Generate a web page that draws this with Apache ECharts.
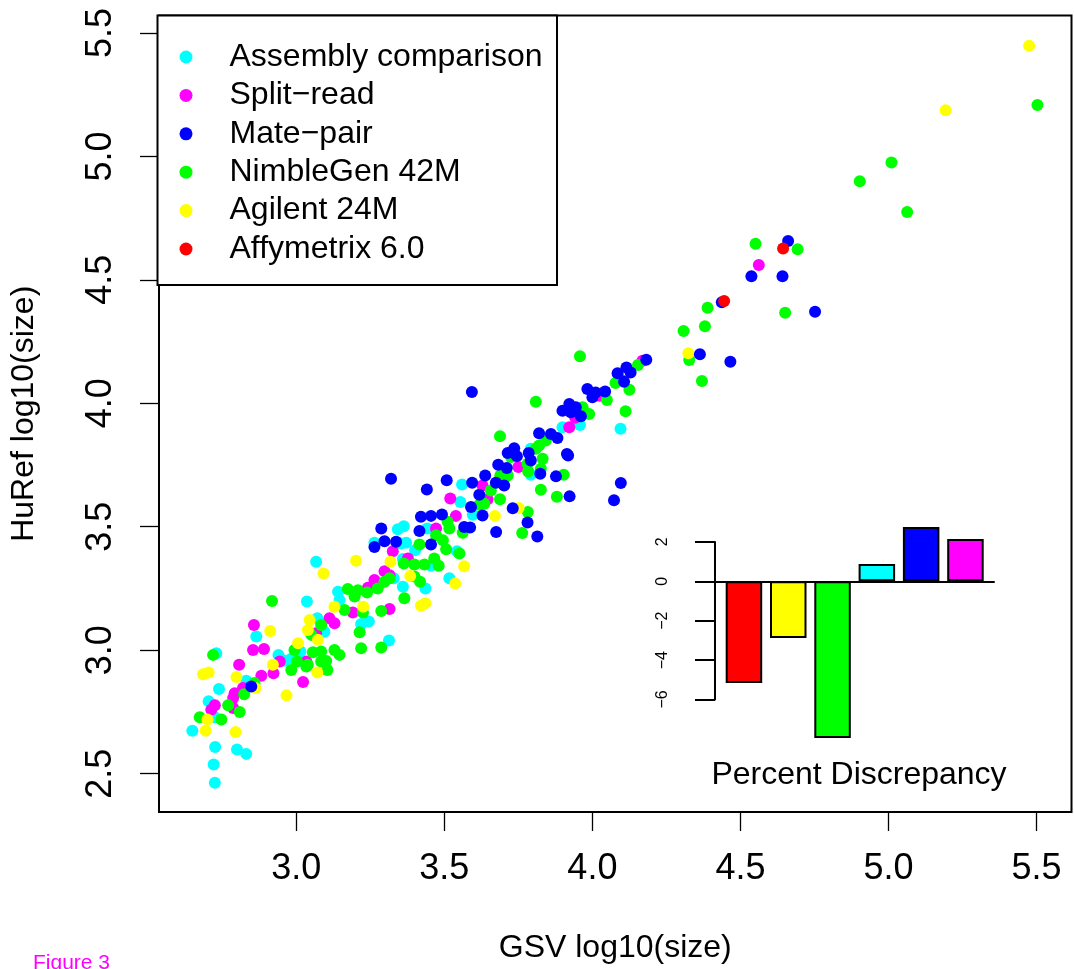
<!DOCTYPE html>
<html>
<head>
<meta charset="utf-8">
<title>HuRef vs GSV size</title>
<script src="https://cdn.jsdelivr.net/npm/echarts@6/dist/echarts.min.js"></script>
<style>
  html, body { margin: 0; padding: 0; background: #fff; }
  #chart { width: 1074px; height: 969px; }
</style>
</head>
<body>
<div id="chart"></div>
<script>
// platforms, in legend order
var platforms = ['Assembly comparison', 'Split\u2212read', 'Mate\u2212pair', 'NimbleGen 42M', 'Agilent 24M', 'Affymetrix 6.0'];

// [GSV log10(size), HuRef log10(size)]
var assemblyPts = [
  [3.899,3.903],[3.958,3.912],[4.095,3.897],[3.792,3.816],[3.792,3.711],
  [3.560,3.671],[3.554,3.600],[3.596,3.549],[3.442,3.493],[3.363,3.502],[3.343,3.490],[3.371,3.435],[3.354,3.432],
  [3.264,3.435],[3.401,3.405],[3.360,3.369],[3.543,3.401],[3.455,3.342],[3.436,3.250],[3.517,3.291],[3.360,3.257],
  [3.067,3.358],[3.329,3.291],[3.141,3.237],[3.146,3.203],[3.036,3.197],[3.219,3.106],[3.245,3.116],[3.313,3.039],
  [2.865,3.055],[3.071,3.129],[3.095,3.075],[3.014,2.995],[2.940,2.981],[2.961,2.957],[2.983,2.965],
  [2.730,2.988],[2.739,2.843],[2.831,2.876],[2.704,2.793],[2.725,2.728],[2.649,2.674],[2.726,2.608],[2.800,2.598],
  [2.831,2.580],[2.721,2.537],[2.725,2.463]
];
var splitReadPts = [
  [4.562,4.560],[4.169,4.172],[4.096,4.095],[4.023,4.031],[3.942,3.941],[3.922,3.903],[3.750,3.742],[3.629,3.667],[3.646,3.611],
  [3.520,3.614],[3.539,3.544],[3.472,3.493],[3.377,3.371],[3.326,3.401],
  [3.298,3.320],[3.264,3.284],[3.242,3.253],[3.315,3.304],[3.191,3.153],[3.315,3.167],[2.857,3.102],[2.854,3.001],[2.891,3.005],
  [3.112,3.129],[3.129,3.109],[3.034,2.954],[2.944,2.954],
  [2.807,2.941],[2.882,2.896],[2.820,2.847],[2.792,2.826],[2.787,2.806],[2.725,2.777],[2.713,2.759],[2.787,2.766],
  [3.023,2.871],[2.923,2.907],[3.067,3.069]
];
var matePairPts = [
  [4.661,4.657],[4.537,4.515],[4.642,4.515],[4.437,4.409],[4.752,4.371],[4.363,4.199],[4.466,4.168],[4.182,4.176],
  [4.115,4.145],[4.085,4.122],[4.129,4.125],[4.107,4.087],[3.983,4.058],[4.011,4.044],[4.043,4.048],[4.000,4.024],
  [3.922,3.997],[3.899,3.970],[3.944,3.984],[3.927,3.964],[3.961,3.948],[3.820,3.879],[3.860,3.876],[3.882,3.859],
  [3.914,3.795],[3.736,3.818],[3.714,3.799],[3.785,3.799],[3.745,3.786],[3.792,3.768],[3.918,3.789],[3.682,3.751],
  [3.711,3.738],[3.824,3.715],[3.877,3.704],[3.638,3.708],[3.674,3.678],[3.702,3.667],[4.096,3.677],[4.073,3.607],
  [3.923,3.623],[3.731,3.575],[3.629,3.546],
  [3.441,3.651],[3.508,3.688],[3.594,3.678],[3.618,3.630],[3.590,3.580],[3.781,3.517],[3.814,3.460],[3.675,3.479],
  [3.421,3.540],[3.455,3.544],[3.492,3.550],[3.416,3.483],[3.567,3.499],[3.587,3.497],[3.455,3.428],
  [3.320,3.694],[3.287,3.493],[3.298,3.441],[3.337,3.439],[3.264,3.418],[3.593,4.046],[2.848,2.853]
];
var nimbleGenPts = [
  [5.503,5.208],[5.010,4.975],[4.903,4.899],[5.063,4.775],[4.551,4.646],[4.693,4.624],[4.389,4.387],[4.651,4.367],
  [4.308,4.293],[4.380,4.312],[4.327,4.175],[4.370,4.090],
  [3.958,4.191],[4.154,4.155],[4.078,4.082],[4.125,4.055],[4.049,4.013],[3.809,4.006],[4.112,3.968],[3.967,3.984],
  [3.989,3.957],[3.688,3.867],[3.843,3.849],[3.820,3.829],[3.809,3.816],[3.832,3.775],[3.725,3.782],[3.781,3.755],
  [3.783,3.724],[3.826,3.735],[3.903,3.711],[3.689,3.708],[3.714,3.708],[3.657,3.647],[3.826,3.650],[3.688,3.611],
  [3.880,3.621],[3.782,3.560],[3.635,3.593],
  [3.618,3.589],[3.763,3.475],[3.511,3.520],[3.517,3.493],[3.562,3.476],[3.472,3.466],[3.495,3.445],[3.416,3.428],
  [3.506,3.409],[3.551,3.392],[3.399,3.347],[3.433,3.347],[3.466,3.371],[3.481,3.342],[3.363,3.351],[3.399,3.298],
  [3.418,3.277],[3.365,3.210],
  [3.298,3.277],[3.315,3.291],[3.275,3.250],[3.174,3.248],[3.208,3.243],[3.239,3.234],[3.197,3.217],[3.163,3.163],
  [3.225,3.153],[3.287,3.159],[2.918,3.199],[3.214,3.073],[3.287,3.011],[3.219,3.008],[3.084,3.102],[3.051,3.062],
  [2.994,3.001],[3.056,2.992],[3.084,2.995],[3.129,3.001],[3.146,2.981],[3.003,2.954],[3.039,2.941],[3.084,2.954],
  [3.101,2.956],
  [2.719,2.981],[2.859,2.867],[2.824,2.822],[2.770,2.777],[2.809,2.750],[2.674,2.728],[2.747,2.719],[2.983,2.920],
  [3.034,2.934],[3.105,2.920]
];
var agilentPts = [
  [5.475,5.448],[5.193,5.187],[4.324,4.203],[3.751,3.576],[3.671,3.544],
  [3.567,3.340],[3.385,3.300],[3.537,3.270],[3.421,3.180],[3.436,3.190],[3.202,3.362],[3.318,3.358],
  [3.092,3.311],[3.129,3.176],[3.226,3.176],[2.912,3.078],[3.045,3.122],[3.039,3.082],[3.073,3.042],[3.006,3.028],
  [2.921,2.941],
  [2.685,2.903],[2.704,2.910],[2.798,2.891],[2.862,2.847],[2.700,2.719],[2.694,2.674],[2.795,2.669],[2.967,2.817],
  [3.071,2.910]
];
var affymetrixPts = [[4.644,4.627],[4.445,4.414]];

var xTicks = [3.0, 3.5, 4.0, 4.5, 5.0, 5.5];
var yTicks = [2.5, 3.0, 3.5, 4.0, 4.5, 5.0, 5.5];

// inset: percent discrepancy per platform
var discrepancyPlatforms = ['Affymetrix 6.0', 'Agilent 24M', 'NimbleGen 42M', 'Assembly comparison', 'Mate\u2212pair', 'Split\u2212read'];
var discrepancyValues = [-5.16, -2.88, -7.95, 0.88, 2.76, 2.15];

var platformColors = {
  'Assembly comparison': '#00ffff',
  'Split\u2212read': '#ff00ff',
  'Mate\u2212pair': '#0000ff',
  'NimbleGen 42M': '#00ff00',
  'Agilent 24M': '#ffff00',
  'Affymetrix 6.0': '#ff0000'
};

var FONT = '"Liberation Sans", Arial, Helvetica, sans-serif';

var chart = echarts.init(document.getElementById('chart'));

function scatter(name, pts) {
  return {
    name: name,
    type: 'scatter',
    xAxisIndex: 0,
    yAxisIndex: 0,
    data: pts,
    symbol: 'circle',
    symbolSize: 12,
    itemStyle: { color: platformColors[name], opacity: 1 },
    emphasis: { disabled: true }
  };
}

var option = {
  animation: false,
  backgroundColor: '#fff',
  textStyle: { fontFamily: FONT, color: '#000' },
  grid: [
    // main plot
    { left: 157.5, top: 15.5, width: 914, height: 799, show: true, borderColor: '#000', borderWidth: 2, backgroundColor: 'transparent' },
    // inset axis (2 .. -6)
    { left: 715, top: 541.9, width: 279, height: 157.6 },
    // inset bars (-8 .. 3)
    { left: 721.8, top: 522.2, width: 265.8, height: 216.7 }
  ],
  legend: {
    orient: 'vertical',
    left: 157.5,
    top: 15.5,
    padding: [22.5, 14.5, 17, 22],
    itemWidth: 13,
    itemHeight: 13,
    itemGap: 0.4,
    icon: 'circle',
    selectedMode: false,
    borderColor: '#000',
    borderWidth: 2,
    backgroundColor: '#fff',
    textStyle: { fontFamily: FONT, fontSize: 32, color: '#000', lineHeight: 38, padding: [0, 0, 0, 32] },
    data: platforms
  },
  xAxis: [
    {
      gridIndex: 0, type: 'value', min: 2.5364, max: 5.618,
      name: 'GSV log10(size)', nameLocation: 'middle', nameGap: 120,
      nameTextStyle: { fontFamily: FONT, fontSize: 32, color: '#000' },
      axisLine: { show: false },
      axisTick: { show: true, customValues: xTicks, length: 19, lineStyle: { color: '#000', width: 1.3 } },
      axisLabel: { customValues: xTicks, fontSize: 36, color: '#000', margin: 39, fontFamily: FONT,
        formatter: function (v) { return v.toFixed(1); } },
      splitLine: { show: false }
    },
    {
      gridIndex: 1, type: 'value', min: 0, max: 1,
      axisLine: { show: true, onZero: true, lineStyle: { color: '#000', width: 2 } },
      axisTick: { show: false }, axisLabel: { show: false }, splitLine: { show: false }
    },
    { gridIndex: 2, type: 'category', data: discrepancyPlatforms, show: false }
  ],
  yAxis: [
    {
      gridIndex: 0, type: 'value', min: 2.3446, max: 5.5707,
      name: 'HuRef log10(size)', nameLocation: 'middle', nameGap: 119,
      nameTextStyle: { fontFamily: FONT, fontSize: 32, color: '#000' },
      axisLine: { show: false },
      axisTick: { show: true, customValues: yTicks, length: 19, lineStyle: { color: '#000', width: 1.3 } },
      axisLabel: { customValues: yTicks, rotate: 90, fontSize: 36, color: '#000', margin: 40, fontFamily: FONT,
        formatter: function (v) { return v.toFixed(1); } },
      splitLine: { show: false }
    },
    {
      gridIndex: 1, type: 'value', min: -6, max: 2, interval: 2,
      axisLine: { show: true, lineStyle: { color: '#000', width: 2 } },
      axisTick: { show: true, length: 20, lineStyle: { color: '#000', width: 2 } },
      axisLabel: { rotate: 90, fontSize: 16, color: '#000', margin: 44, fontFamily: FONT,
        formatter: function (v) { return String(v).replace('-', '\u2212'); } },
      splitLine: { show: false }
    },
    { gridIndex: 2, type: 'value', min: -8, max: 3, show: false }
  ],
  series: [
    scatter('Assembly comparison', assemblyPts),
    scatter('Split\u2212read', splitReadPts),
    scatter('NimbleGen 42M', nimbleGenPts),
    scatter('Agilent 24M', agilentPts),
    scatter('Mate\u2212pair', matePairPts),
    scatter('Affymetrix 6.0', affymetrixPts),
    {
      name: 'Percent Discrepancy',
      type: 'bar',
      xAxisIndex: 2,
      yAxisIndex: 2,
      barWidth: 36.5,
      z: 3,
      emphasis: { disabled: true },
      data: discrepancyValues.map(function (v, i) {
        return { value: v, itemStyle: { color: platformColors[discrepancyPlatforms[i]], borderColor: '#000', borderWidth: 2 } };
      })
    }
  ],
  graphic: [
    { type: 'text', x: 859, y: 775, style: { text: 'Percent Discrepancy', fontFamily: FONT, fontSize: 32, fill: '#000', align: 'center', verticalAlign: 'middle' } },
    { type: 'text', x: 33, y: 963.5, style: { text: 'Figure 3', fontFamily: FONT, fontSize: 21, fill: '#ff00ff', align: 'left', verticalAlign: 'middle' } }
  ]
};

chart.setOption(option);
</script>
</body>
</html>
